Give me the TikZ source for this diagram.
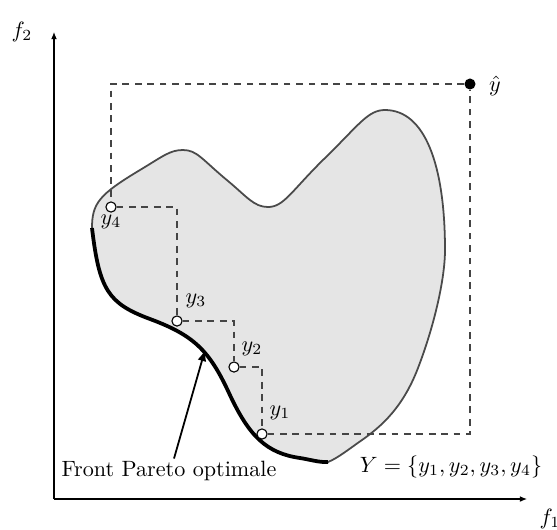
\documentclass[tikz,border=0pt]{standalone}
\usetikzlibrary{arrows.meta}
\definecolor{regfill}{HTML}{E5E5E5}
\definecolor{regline}{HTML}{4A4A4A}
\definecolor{dashcol}{HTML}{444444}
\tikzset{
  axis/.style={line width=0.5pt, -{Latex[length=3.2pt,width=2.6pt]}},
  guide/.style={dashcol, line width=0.55pt, dash pattern=on 3pt off 2.6pt},
  sol/.style={circle, draw=black, fill=white, line width=0.5pt, inner sep=0pt, minimum size=4.6pt},
  ideal/.style={circle, fill=black, inner sep=0pt, minimum size=5pt},
  lab/.style={inner sep=1pt},
}
\begin{document}
\begin{tikzpicture}[x=0.4515pt, y=-0.4515pt]
\useasboundingbox (0,0) rectangle (557,529);
% axes
\coordinate (O) at (54,499);
\coordinate (xend) at (527,499);
\coordinate (yend) at (54,32);
\draw[axis] (O) -- (xend);
\draw[axis] (O) -- (yend);
\node[lab] (f2) at (22,32) {$f_2$};
\node[lab] (f1) at (550,519) {$f_1$};
% region
\draw[regline, fill=regfill, line width=0.8pt]
 (92,228) .. controls (99.3,289.7) and (108,303.4) .. (150,319)
 .. controls (193.3,335.1) and (209.1,349.9) .. (229,393)
 .. controls (249.3,437) and (267,453.2) .. (300,458)
 .. controls (310,459.5) and (319,462.5) .. (328,462)
 .. controls (338,458) and (350,448.3) .. (362,440)
 .. controls (389,421.3) and (405.8,399.7) .. (418,368)
 .. controls (434.2,325.9) and (445,278.7) .. (445,250)
 .. controls (445,165) and (425,110) .. (385,110)
 .. controls (368,110) and (359.4,124.4) .. (325,158)
 .. controls (291.5,190.7) and (284,207) .. (268,207)
 .. controls (254,207) and (246.8,196.6) .. (228,181)
 .. controls (201.8,159.3) and (197,150) .. (183,150)
 .. controls (170,150) and (163.3,156) .. (140,170)
 .. controls (99.2,194.5) and (92,203.2) .. (92,228) -- cycle;
% Pareto front (thick)
\draw[black, line width=1.7pt]
 (92,228) .. controls (99.3,289.7) and (108,303.4) .. (150,319)
 .. controls (193.3,335.1) and (209.1,349.9) .. (229,393)
 .. controls (249.3,437) and (267,453.2) .. (300,458)
 .. controls (310,459.5) and (319,462.5) .. (328,462);
% points
\node[ideal] (yhat) at (470,84) {};
\node[sol] (y4) at (111,207) {};
\node[sol] (y3) at (177,321) {};
\node[sol] (y2) at (234,367) {};
\node[sol] (y1) at (262,434) {};
% dashed guides
\draw[guide] (yhat) -| (y4);
\draw[guide] (y4) -| (y3);
\draw[guide] (y3) -| (y2);
\draw[guide] (y2) -| (y1);
\draw[guide] (y1) -| (yhat);
% labels
\node[lab] (lhat) at (495,86) {$\hat{y}$};
\node[lab] (l4) at (111,222) {$y_4$};
\node[lab] (l3) at (196,301) {$y_3$};
\node[lab] (l2) at (252,349) {$y_2$};
\node[lab] (l1) at (280,413) {$y_1$};
\node[lab] (Yset) at (451,467) {$Y=\{y_1,y_2,y_3,y_4\}$};
\node[lab] (front) at (169,471) {Front Pareto optimale};
\coordinate (fx) at (174,0);
\coordinate (ftip) at (205,350);
\draw[line width=0.8pt, -{Latex[length=5pt,width=4pt]}] (front.north -| fx) -- (ftip);
\end{tikzpicture}
\end{document}
